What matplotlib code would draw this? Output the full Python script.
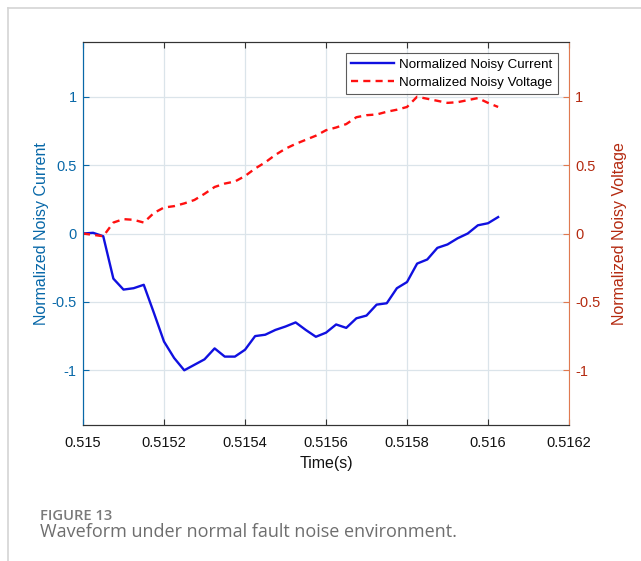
import matplotlib
matplotlib.use("Agg")
import matplotlib.pyplot as plt
from matplotlib.lines import Line2D

# Sample times (s)
time_s = [
    0.515000, 0.515025, 0.515050, 0.515075, 0.515100, 0.515125, 0.515150,
    0.515175, 0.515200, 0.515225, 0.515250, 0.515275, 0.515300, 0.515325,
    0.515350, 0.515375, 0.515400, 0.515425, 0.515450, 0.515475, 0.515500,
    0.515525, 0.515550, 0.515575, 0.515600, 0.515625, 0.515650, 0.515675,
    0.515700, 0.515725, 0.515750, 0.515775, 0.515800, 0.515825, 0.515850,
    0.515875, 0.515900, 0.515925, 0.515950, 0.515975, 0.516000, 0.516025,
]

# Normalized noisy current (left axis)
current = [
    0.000, 0.005, -0.020, -0.330, -0.410, -0.400, -0.375,
    -0.580, -0.790, -0.910, -1.000, -0.960, -0.920, -0.840,
    -0.900, -0.900, -0.850, -0.750, -0.740, -0.705, -0.680,
    -0.650, -0.705, -0.755, -0.725, -0.665, -0.690, -0.620,
    -0.600, -0.520, -0.510, -0.400, -0.355, -0.220, -0.190,
    -0.105, -0.080, -0.035, 0.000, 0.060, 0.075, 0.120,
]

# Normalized noisy voltage (right axis)
voltage = [
    0.000, -0.010, -0.020, 0.080, 0.105, 0.100, 0.080,
    0.150, 0.190, 0.200, 0.220, 0.245, 0.290, 0.340,
    0.365, 0.380, 0.420, 0.475, 0.520, 0.575, 0.620,
    0.655, 0.685, 0.715, 0.755, 0.775, 0.800, 0.850,
    0.865, 0.870, 0.890, 0.905, 0.925, 1.000, 0.985,
    0.970, 0.955, 0.960, 0.975, 0.990, 0.955, 0.925,
]

x_ticks = [0.515, 0.5152, 0.5154, 0.5156, 0.5158, 0.516, 0.5162]
x_tick_labels = ["0.515", "0.5152", "0.5154", "0.5156", "0.5158", "0.516", "0.5162"]
y_ticks = [-1, -0.5, 0, 0.5, 1]
y_tick_labels = ["-1", "-0.5", "0", "0.5", "1"]

plt.rcParams["font.family"] = ["Liberation Sans", "DejaVu Sans"]

LEFT_COLOR = "#0868a8"
RIGHT_SPINE = "#e07a50"
RIGHT_TEXT = "#b42a10"
DARK = "#333333"
GRID = "#dbe4ea"

fig = plt.figure(figsize=(6.41, 5.61), dpi=100)

# page frame lines
fig.add_artist(Line2D([8 / 641, 1.0], [1 - 8 / 561, 1 - 8 / 561],
                      color="#d4d4d4", lw=1.2, transform=fig.transFigure))
fig.add_artist(Line2D([8 / 641, 8 / 641], [0.0, 1 - 8 / 561],
                      color="#d4d4d4", lw=1.2, transform=fig.transFigure))

ax = fig.add_axes([83 / 641, 1 - 425 / 561, (569 - 83) / 641, (425 - 42) / 561])
ax2 = ax.twinx()

ln1, = ax.plot(time_s, current, color="#1010e0", lw=1.7,
               label="Normalized Noisy Current")
ln2, = ax2.plot(time_s, voltage, color="#ff1010", lw=1.7, ls=(0, (3.0, 2.2)),
                label="Normalized Noisy Voltage")
ax2.set_zorder(ax.get_zorder() + 1)

ax.set_xlim(0.515, 0.5162)
ax.set_ylim(-1.4, 1.4)
ax2.set_ylim(-1.4, 1.4)

ax.set_xticks(x_ticks)
ax.set_xticklabels(x_tick_labels)
ax.set_yticks(y_ticks)
ax.set_yticklabels(y_tick_labels)
ax2.set_yticks(y_ticks)
ax2.set_yticklabels(y_tick_labels)

ax.grid(True, color=GRID, lw=0.9)
ax.set_axisbelow(True)

ax.tick_params(axis="x", direction="in", length=4, top=True, colors=DARK,
               labelsize=10.5, pad=8, labelcolor="#111111")
ax.tick_params(axis="y", direction="in", length=4, colors=LEFT_COLOR,
               labelsize=10.5, labelcolor=LEFT_COLOR, pad=4.5)
ax2.tick_params(axis="y", direction="in", length=4, colors=RIGHT_SPINE,
                labelsize=10.5, labelcolor=RIGHT_TEXT, pad=4.5)

for side in ("top", "bottom"):
    ax.spines[side].set_color(DARK)
    ax2.spines[side].set_color(DARK)
ax.spines["left"].set_color(LEFT_COLOR)
ax2.spines["left"].set_color(LEFT_COLOR)
ax2.spines["right"].set_color(RIGHT_SPINE)
ax.spines["right"].set_visible(False)

ax.set_xlabel("Time(s)", fontsize=11.5, color="#111111", labelpad=4)
ax.set_ylabel("Normalized Noisy Current", fontsize=11.5, color=LEFT_COLOR, labelpad=1.5)
ax2.set_ylabel("Normalized Noisy Voltage", fontsize=11.5, color=RIGHT_TEXT, labelpad=8.5)

leg = ax2.legend(handles=[ln1, ln2], loc="upper right", fontsize=9.6,
                 frameon=True, fancybox=False, edgecolor="#333333",
                 borderaxespad=0.83, handlelength=3.2, handletextpad=0.38,
                 borderpad=0.42, labelspacing=0.4)
leg.get_frame().set_linewidth(0.8)

fig.text(40 / 641, 1 - 516 / 561, "FIGURE 13", fontsize=10.6, color="#7a7a7a",
         family=["Open Sans", "DejaVu Sans"], weight="semibold",
         va="center", ha="left")
fig.text(40 / 641, 1 - 532 / 561, "Waveform under normal fault noise environment.",
         fontsize=13, color="#6e6e6e", family=["Open Sans", "DejaVu Sans"],
         va="center", ha="left")

fig.savefig("out.png", dpi=100)
